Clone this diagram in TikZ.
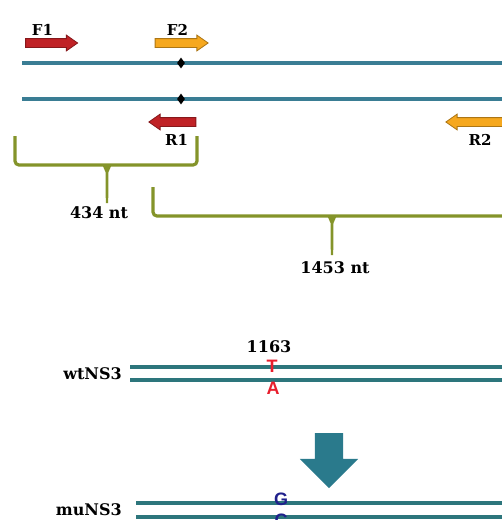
\documentclass[tikz,border=0pt]{standalone}
\usepackage{fontspec}
\setmainfont{DejaVu Serif}
\setsansfont{Liberation Sans}
\usetikzlibrary{positioning,shapes.arrows,shapes.geometric}
\definecolor{strandblue}{RGB}{58,125,148}
\definecolor{strandteal}{RGB}{45,118,124}
\definecolor{primerred}{RGB}{192,34,38}
\definecolor{primerorange}{RGB}{246,168,30}
\definecolor{braceolive}{RGB}{132,148,42}
\definecolor{arrowteal}{RGB}{42,122,140}
\definecolor{basered}{RGB}{232,30,45}
\definecolor{baseblue}{RGB}{32,32,140}
\tikzset{
  primer/.style={
    single arrow,
    fill=#1,
    draw=#1!70!black,
    line width=0.8pt,
    inner sep=4pt,
    single arrow head extend=3.5pt,
    single arrow tip angle=70,
  },
  strand/.style={
    draw=#1,
    line width=3.2pt,
  },
  snp/.style={
    diamond,
    fill=black,
    inner sep=0pt,
    minimum width=8pt,
    minimum height=11pt,
  },
  tag/.style={
    font=\fontsize{#1}{#1}\selectfont\bfseries,
    inner sep=0pt,
  },
  base/.style={
    font=\fontsize{18}{18}\selectfont\sffamily\bfseries,
    text=#1,
    inner sep=0pt,
  },
  brace/.style={
    draw=braceolive,
    line width=3.2pt,
    rounded corners=4pt,
  },
}

\begin{document}
\begin{tikzpicture}[x=1pt,y=-1pt]
        \useasboundingbox (0,0) rectangle (502,520);
        \clip (0,0) rectangle (502,520);

        % primers
        \node [primer=primerred, minimum height=52pt] (f1) at (48.5,43) {};
        \node [primer=primerorange, minimum height=53pt] (f2) at (178.5,43) {};
        \node [primer=primerred, shape border rotate=180, minimum height=47pt] (r1) at (175.5,122) {};
        \node [primer=primerorange, shape border rotate=180, minimum height=62pt] (r2) at (480,122) {};

        \node [tag=15, above=3pt of f1, xshift=-6pt] (f1l) {F1};
        \node [tag=15, above=3pt of f2, xshift=-1pt] (f2l) {F2};
        \node [tag=15, below=7pt of r1, xshift=1pt] (r1l) {R1};
        \node [tag=15, below=7pt of r2] (r2l) {R2};

        % template strands
        \coordinate (top5) at (22,63);
        \coordinate (top3) at (510,63);
        \coordinate (bot5) at (22,99);
        \coordinate (bot3) at (510,99);
        \draw [strand=strandblue] (top5) -- (top3);
        \draw [strand=strandblue] (bot5) -- (bot3);
        \node [snp] (m1) at (181,63) {};
        \node [snp] (m2) at (181,99) {};

        % amplicons
        \draw [brace] (15,136) -- (15,165) -- (197,165) -- (197,136);
        \fill [braceolive] (102,164) -- (112,164) -- (108.5,172) -- (108.2,203) -- (105.8,203) -- (105.5,172) -- cycle;
        \draw [brace] (153,187) -- (153,216) -- (515,216);
        \fill [braceolive] (327,215) -- (337,215) -- (333.5,223) -- (333.2,255) -- (330.8,255) -- (330.5,223) -- cycle;
        \node [tag=16] (len1) at (99,213) {434 nt};
        \node [tag=16] (len2) at (335,268) {1453 nt};

        % wild type
        \coordinate (wt5a) at (130,367);
        \coordinate (wt3a) at (510,367);
        \coordinate (wt5b) at (130,380);
        \coordinate (wt3b) at (510,380);
        \coordinate (wtmid) at (130,373.5);
        \draw [strand=strandteal] (wt5a) -- (wt3a);
        \draw [strand=strandteal] (wt5b) -- (wt3b);
        \node [tag=16, left=8pt of wtmid] (wt) {wtNS3};
        \node [base=basered] (t) at (272,366) {T};
        \node [base=basered] (a) at (273,388) {A};
        \node [tag=16] (pos) at (269,347) {1163};

        % mutagenesis
        \node [single arrow, fill=arrowteal, shape border rotate=270, inner sep=14pt,
          single arrow head extend=15pt, minimum height=55pt] (mut) at (329,453.5) {};

        % mutant
        \coordinate (mu5a) at (136,503);
        \coordinate (mu3a) at (510,503);
        \coordinate (mu5b) at (136,517);
        \coordinate (mu3b) at (510,517);
        \coordinate (mumid) at (136,510);
        \draw [strand=strandteal] (mu5a) -- (mu3a);
        \draw [strand=strandteal] (mu5b) -- (mu3b);
        \node [tag=16, left=14pt of mumid] (mu) {muNS3};
        \node [base=baseblue] (g) at (281,499) {G};
        \node [base=baseblue] (c) at (281,520) {C};
      \end{tikzpicture}
\end{document}
